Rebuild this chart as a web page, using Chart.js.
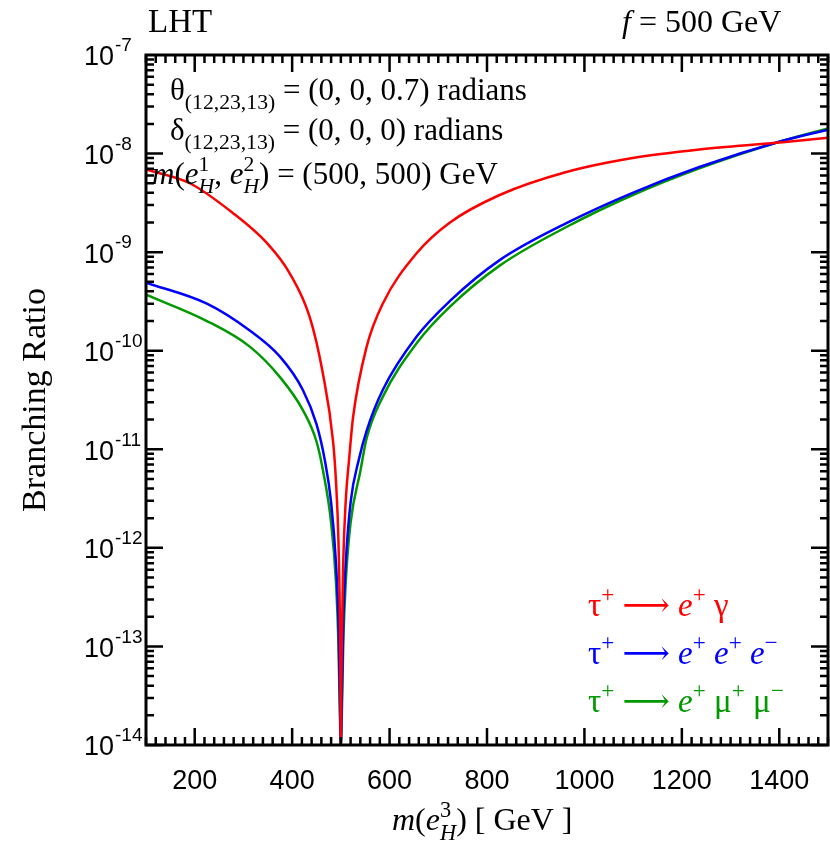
<!DOCTYPE html>
<html><head><meta charset="utf-8">
<script src="https://cdn.jsdelivr.net/npm/chart.js@4/dist/chart.umd.min.js"></script>
<style>html,body{margin:0;padding:0;background:#fff}#c{display:block}</style>
</head><body>
<div style="width:830px;height:844px"><canvas id="c" width="830" height="844"></canvas></div>
<script>
const xTicks=[200,400,600,800,1000,1200,1400];
const yExps=[-7,-8,-9,-10,-11,-12,-13,-14];
const redX=[100,190,278,348,395,436,463,484,490,495,498,499,500,501,502,505,510,517,525,553,586,656,724,826,963,1099,1236,1407,1500];
const redY=[6.9e-9,5e-9,2.5e-9,1.24e-9,6.1e-10,2.2e-10,5.9e-11,1.2e-11,4.7e-12,1.2e-12,1.9e-13,4.7e-14,1e-14,4.7e-14,1.2e-13,7.5e-13,3e-12,8e-12,2.1e-11,1.1e-10,3e-10,9.8e-10,2e-9,3.8e-9,6.5e-9,9e-9,1.1e-8,1.3e-8,1.45e-8];
const blueX=[100,225,313,375,422,450,467,480,490,495,498,500,502,505,510,520,537,553,586,656,724,826,963,1099,1236,1407,1500];
const blueY=[4.9e-10,3e-10,1.6e-10,8.7e-11,4e-11,1.8e-11,7.8e-12,2.9e-12,7e-13,1.8e-13,3e-14,1e-14,3e-14,1.8e-13,7e-13,2.9e-12,7.9e-12,1.55e-11,4e-11,1.4e-10,3.2e-10,8.3e-10,1.97e-9,4e-9,7.3e-9,1.35e-8,1.75e-8];
const greenX=[100,225,313,375,422,450,463,480,490,495,498,500,502,505,510,520,540,553,586,656,724,826,963,1099,1236,1407,1500];
const greenY=[3.7e-10,2e-10,1.1e-10,5.4e-11,2.5e-11,1.2e-11,6.2e-12,1.8e-12,4.5e-13,1.1e-13,2e-14,1e-14,2e-14,1.1e-13,4.5e-13,1.8e-12,6e-12,1.3e-11,3.4e-11,1.2e-10,2.8e-10,7.3e-10,1.8e-9,3.8e-9,7.1e-9,1.35e-8,1.8e-8];

const pts=(xs,ys)=>xs.map((x,i)=>({x:x,y:ys[i]}));
const SERIF='"Liberation Serif","DejaVu Serif",serif';
const SANS='"Liberation Sans",Arial,sans-serif';

function rich(ctx,x,y,segs,size,color){
  let cx=x,pend=0;
  ctx.fillStyle=color;ctx.textAlign='left';ctx.textBaseline='alphabetic';
  for(const s of segs){
    const fs=s.s?size*0.7:size;
    ctx.font=(s.i?'italic ':'')+fs+'px '+SERIF;
    const dy=s.s==='sup'?-size*0.42:(s.s==='sub'?size*0.3:0);
    ctx.fillText(s.t,cx,y+dy);
    const w=ctx.measureText(s.t).width;
    if(s.stack){pend=Math.max(pend,w);continue;}
    cx+=Math.max(w,pend);pend=0;
  }
}

const frame={id:'frame',afterDraw(ch){
  const ctx=ch.ctx,a=ch.chartArea,xs=ch.scales.x,ys=ch.scales.y;
  ctx.save();
  ctx.strokeStyle='#000';ctx.lineWidth=3;
  ctx.strokeRect(a.left,a.top,a.right-a.left,a.bottom-a.top);
  ctx.lineWidth=2.5;ctx.beginPath();
  for(let v=100;v<=1500;v+=20){const p=xs.getPixelForValue(v);const L=(v%200===0)?17:8;
    ctx.moveTo(p,a.bottom);ctx.lineTo(p,a.bottom-L);ctx.moveTo(p,a.top);ctx.lineTo(p,a.top+L);}
  for(let e=-14;e<-7;e++){for(let k=1;k<=9;k++){const v=k*Math.pow(10,e);const p=ys.getPixelForValue(v);const L=k===1?17:8;
    ctx.moveTo(a.left,p);ctx.lineTo(a.left+L,p);ctx.moveTo(a.right,p);ctx.lineTo(a.right-L,p);}}
  ctx.stroke();
  ctx.fillStyle='#000';ctx.textBaseline='middle';
  for(const e of yExps){const p=ys.getPixelForValue(Math.pow(10,e));
    ctx.font='27px '+SANS;ctx.textAlign='right';ctx.fillText('10',114,p+3);
    ctx.font='19px '+SANS;ctx.textAlign='left';ctx.fillText(String(e),115,p-9);}
  ctx.save();ctx.translate(36,400);ctx.rotate(-Math.PI/2);ctx.font='34px '+SERIF;ctx.textAlign='center';ctx.textBaseline='middle';ctx.fillText('Branching Ratio',0,0);ctx.restore();

  rich(ctx,392,830,[{t:'m',i:1},{t:'('},{t:'e',i:1},{t:'3',s:'sup',stack:1},{t:'H',i:1,s:'sub'},{t:') [ GeV ]'}],32,'#000');
  rich(ctx,148,32,[{t:'LHT'}],33,'#000');
  rich(ctx,622,32,[{t:'f',i:1},{t:' = 500 GeV'}],32,'#000');
  rich(ctx,170,100,[{t:'θ'},{t:'(12,23,13)',s:'sub'},{t:' = (0, 0, 0.7) radians'}],31,'#000');
  rich(ctx,170,140,[{t:'δ'},{t:'(12,23,13)',s:'sub'},{t:' = (0, 0, 0) radians'}],31,'#000');
  rich(ctx,152,184,[{t:'m',i:1},{t:'('},{t:'e',i:1},{t:'1',s:'sup',stack:1},{t:'H',i:1,s:'sub'},{t:', '},{t:'e',i:1},{t:'2',s:'sup',stack:1},{t:'H',i:1,s:'sub'},{t:') = (500, 500) GeV'}],31,'#000');
  rich(ctx,588,616,[{t:'τ'},{t:'+',s:'sup'},{t:' ⟶ '},{t:'e',i:1},{t:'+',s:'sup'},{t:' γ'}],33,'#ff0000');
  rich(ctx,588,664,[{t:'τ'},{t:'+',s:'sup'},{t:' ⟶ '},{t:'e',i:1},{t:'+',s:'sup'},{t:' '},{t:'e',i:1},{t:'+',s:'sup'},{t:' '},{t:'e',i:1},{t:'−',s:'sup'}],33,'#0000ff');
  rich(ctx,588,712,[{t:'τ'},{t:'+',s:'sup'},{t:' ⟶ '},{t:'e',i:1},{t:'+',s:'sup'},{t:' μ'},{t:'+',s:'sup'},{t:' μ'},{t:'−',s:'sup'}],33,'#009900');
  ctx.restore();
}};

const ds=(lab,d,c)=>({label:lab,data:d,borderColor:c,borderWidth:2.5,pointRadius:0,fill:false,cubicInterpolationMode:'monotone'});
new Chart(document.getElementById('c'),{
  type:'line',
  data:{datasets:[ds('red',pts(redX,redY),'#ff0000'),ds('blue',pts(blueX,blueY),'#0000ff'),ds('green',pts(greenX,greenY),'#009900')]},
  options:{responsive:false,animation:false,devicePixelRatio:1,
    layout:{padding:{top:55,right:2,left:0,bottom:0}},
    plugins:{legend:{display:false},tooltip:{enabled:false}},
    scales:{
      x:{type:'linear',min:100,max:1500,
        afterBuildTicks:s=>{s.ticks=xTicks.map(v=>({value:v}));},
        afterFit:s=>{s.height=99;},
        grid:{display:false},border:{display:false},
        ticks:{color:'#000',font:{family:SANS,size:27},padding:12,maxRotation:0,callback:v=>String(v)}},
      y:{type:'logarithmic',min:1e-14,max:1e-7,
        afterBuildTicks:s=>{s.ticks=yExps.map(e=>({value:Math.pow(10,e)}));},
        afterFit:s=>{s.width=146;},
        grid:{display:false},border:{display:false},
        ticks:{callback:()=>''}}
    }},
  plugins:[frame]
});
</script></body></html>
